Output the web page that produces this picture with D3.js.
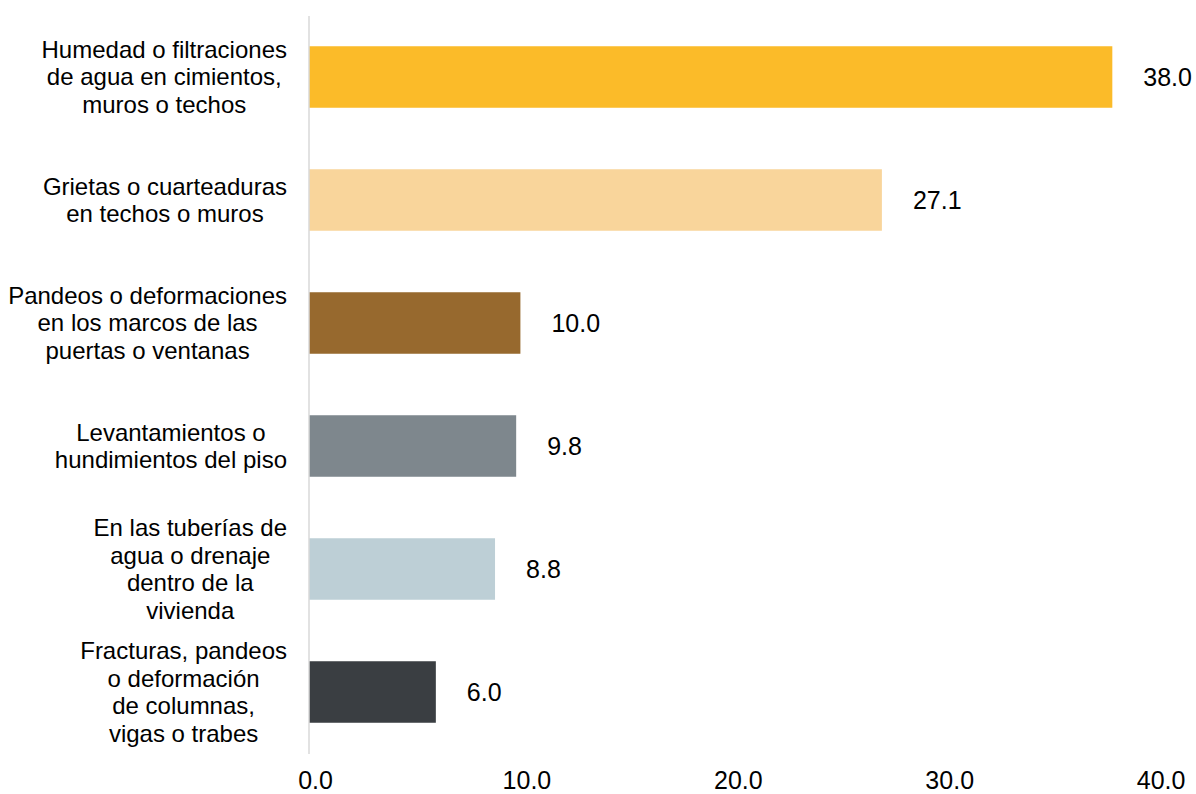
<!DOCTYPE html>
<html>
<head>
<meta charset="utf-8">
<script src="https://cdnjs.cloudflare.com/ajax/libs/d3/7.8.5/d3.min.js"></script>
<style>
  body { margin: 0; background: #ffffff; }
  svg text { font-family: "Liberation Sans", Arial, sans-serif; fill: #000; }
</style>
</head>
<body>
<script>
// chart data
var categories = [
  ["Humedad o filtraciones", "de agua en cimientos,", "muros o techos"],
  ["Grietas o cuarteaduras", "en techos o muros"],
  ["Pandeos o deformaciones", "en los marcos de las", "puertas o ventanas"],
  ["Levantamientos o", "hundimientos del piso"],
  ["En las tuberías de", "agua o drenaje", "dentro de la", "vivienda"],
  ["Fracturas, pandeos", "o deformación", "de columnas,", "vigas o trabes"]
];
var values = [38.0, 27.1, 10.0, 9.8, 8.8, 6.0];
var colors = ["#fbbb29", "#f9d59b", "#97692e", "#7e878d", "#bdcfd6", "#3a3e42"];
var xTicks = [0, 10, 20, 30, 40];

// sizes
var w = 1196;
var h = 794;
var x0 = 309;
var x1 = 1154.6;
var yTop = 15.5;
var yBottom = 753.5;
var labelRight = 287;
var lineHeight = 27.7;

var svg = d3.select("body")
            .append("svg")
            .attr("width", w)
            .attr("height", h);

var xScale = d3.scaleLinear()
               .domain([0, 40])
               .range([x0, x1]);

var yScale = d3.scaleBand()
               .domain(d3.range(values.length))
               .range([yTop, yBottom])
               .paddingInner(0.5)
               .paddingOuter(0.25);

// bars
svg.selectAll("rect.bar")
   .data(values)
   .enter()
   .append("rect")
   .attr("class", "bar")
   .attr("x", xScale(0))
   .attr("y", (d, i) => yScale(i))
   .attr("width", d => xScale(d) - xScale(0))
   .attr("height", yScale.bandwidth())
   .attr("fill", (d, i) => colors[i]);

// vertical axis line
svg.append("g")
   .attr("transform", "translate(" + (x0 - 0.5) + ",0)")
   .call(d3.axisLeft(yScale).tickSize(0).tickFormat(""))
   .call(g => g.select(".domain").attr("stroke", "#d9d9d9").attr("stroke-width", 1.5));

// value labels
svg.selectAll("text.value")
   .data(values)
   .enter()
   .append("text")
   .attr("class", "value")
   .attr("x", d => xScale(d) + 31)
   .attr("y", (d, i) => yScale(i) + yScale.bandwidth() / 2)
   .attr("dy", "0.35em")
   .style("font-size", "25px")
   .text(d => d.toFixed(1));

// category labels, centred blocks flush to the right edge
categories.forEach(function(lines, i) {
  var cy = yScale(i) + yScale.bandwidth() / 2;
  var t = svg.append("text")
             .style("font-size", "24px")
             .attr("text-anchor", "middle");
  lines.forEach(function(line, j) {
    t.append("tspan")
     .attr("y", cy + (j - (lines.length - 1) / 2) * lineHeight)
     .attr("dy", "0.35em")
     .text(line);
  });
  var maxW = 0;
  t.selectAll("tspan").each(function() {
    maxW = Math.max(maxW, this.getComputedTextLength());
  });
  t.selectAll("tspan").attr("x", labelRight - maxW / 2);
});

// bottom tick labels
svg.append("g")
   .attr("transform", "translate(0," + yBottom + ")")
   .call(d3.axisBottom(xScale).tickValues(xTicks).tickSize(0).tickFormat(d3.format(".1f")))
   .call(g => g.select(".domain").remove())
   .call(g => g.selectAll("text")
               .attr("dx", 6)
               .attr("y", 26.5)
               .attr("dy", "0.35em")
               .style("font-size", "25px")
               .style("font-family", "'Liberation Sans', Arial, sans-serif"));
</script>
</body>
</html>
